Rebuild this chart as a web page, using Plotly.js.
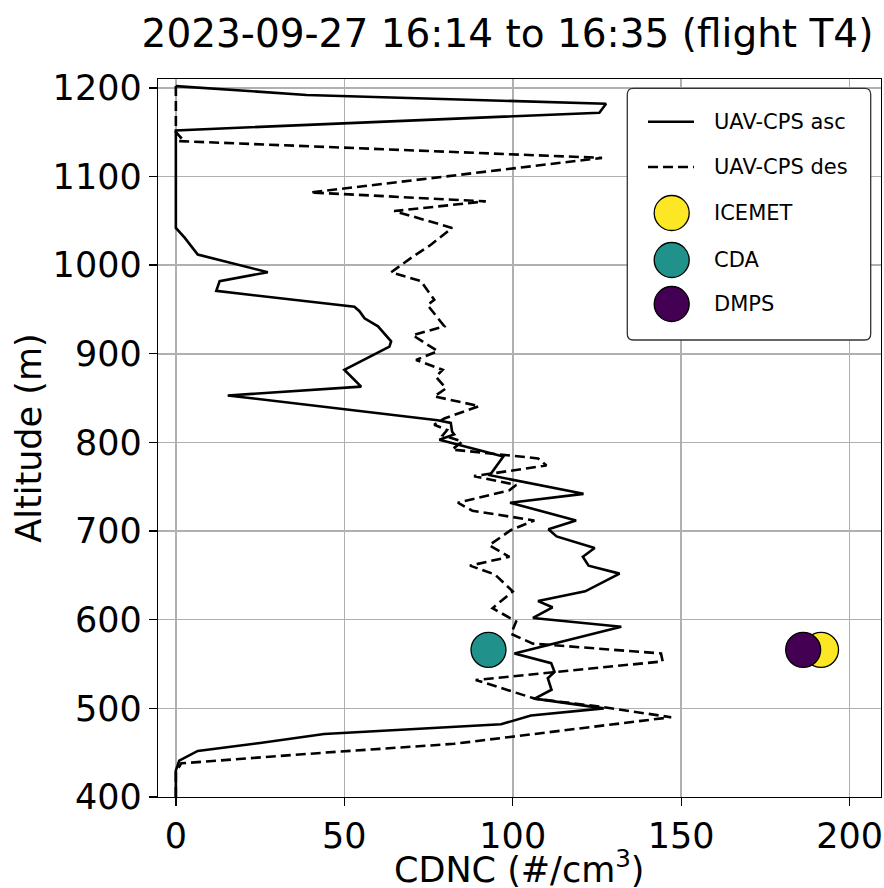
<!DOCTYPE html>
<html>
<head>
<meta charset="utf-8">
<script src="https://cdn.plot.ly/plotly-3.0.1.min.js"></script>
<style>html,body{margin:0;padding:0;background:#fff;}#chart{width:884px;height:888px;}</style>
</head>
<body>
<div id="chart"></div>
<script>
// UAV-CPS ascending profile (altitude m, CDNC #/cm3)
const ascAlt = [400, 430, 441, 452, 461, 471, 482, 492, 500, 511, 521, 534, 541, 551, 562, 592, 602, 614, 621, 632, 652, 661, 671, 681, 694, 702, 712, 732, 742, 763, 784, 803, 809, 812, 822, 825, 853, 863, 882, 908, 914, 931, 940, 948, 953, 971, 982, 992, 1012, 1031, 1042, 1152, 1172, 1182, 1192, 1202];
const ascVal = [0, 0, 1, 6.5, 25, 44, 96.5, 105.4, 127, 106.5, 111.5, 110.4, 112.4, 111.4, 100.5, 132.2, 106, 111.8, 107.5, 121.5, 131.7, 122.5, 120.8, 124.3, 113, 110.6, 118.8, 99.2, 121, 93.2, 97.2, 78.2, 82.6, 82, 81.6, 77.7, 15.4, 55, 50, 63.4, 63.9, 60, 56, 54.5, 53, 12, 13, 27.3, 6.5, 2.6, 0, 0, 125.7, 127.7, 38.8, 0];
// UAV-CPS descending profile
const desAlt = [400, 428, 438, 450, 460, 490, 502, 511, 532, 553, 562, 573, 584, 598, 613, 632, 651, 661, 671, 684, 701, 712, 723, 732, 746, 752, 762, 774, 782, 786, 792, 801, 808, 814, 820, 827, 841, 852, 861, 874, 882, 893, 903, 921, 931, 955, 961, 982, 992, 1010, 1023, 1042, 1061, 1072, 1082, 1121, 1140, 1144, 1150, 1202];
const desVal = [0, 0, 1.6, 44, 82.6, 147, 125.7, 106.5, 89, 144.5, 144, 106, 99.5, 101, 94, 100, 94.7, 87.3, 99, 93, 99.4, 106.4, 88, 83.7, 99, 101, 88.5, 110, 107.5, 98, 82, 85, 79.2, 80.5, 76.7, 79.7, 90, 76.7, 80.2, 77.2, 79.2, 71.3, 77.7, 70.3, 79.7, 74.7, 76.7, 72.7, 63.9, 70.5, 75.7, 82, 64.8, 92, 40, 126.5, 0.5, 1.5, 0, 0];
// Instrument point values
const instNames = ["ICEMET", "CDA", "DMPS"];
const instVal = [191.5, 92.8, 186.2];
const instAlt = [566, 566, 566];
const instColors = ["#fde725", "#21918c", "#440154"];
const lineNames = ["UAV-CPS asc", "UAV-CPS des"];
const xTicks = [0, 50, 100, 150, 200];
const yTicks = [400, 500, 600, 700, 800, 900, 1000, 1100, 1200];
const xTitle = "CDNC (#/cm<sup>3</sup>)";
const yTitle = "Altitude (m)";
const chartTitle = "2023-09-27 16:14 to 16:35 (flight T4)";

const FONT = "DejaVu Sans, sans-serif";
const LW = 2.6;
const DASH = "10px,5px";
const traces = [
  {x: ascVal, y: ascAlt, mode: "lines", name: lineNames[0], line: {color: "#000", width: LW}, showlegend: false, hoverinfo: "skip"},
  {x: desVal, y: desAlt, mode: "lines", name: lineNames[1], line: {color: "#000", width: LW, dash: DASH}, showlegend: false, hoverinfo: "skip"}
];
for (let i = 0; i < instNames.length; i++) {
  traces.push({x: [instVal[i]], y: [instAlt[i]], mode: "markers", name: instNames[i],
    marker: {size: 35, color: instColors[i], line: {color: "#000", width: 1.3}}, showlegend: false, hoverinfo: "skip"});
}

// custom legend (paper coordinates for plot area 158..881 x 79..797)
const PW = 723, PH = 718, PL = 158, PT = 79;
const px = v => (v - PL) / PW;
const py = v => (PT + PH - v) / PH;
const bx0 = px(627.3), bx1 = px(870.7), by0 = py(340), by1 = py(88.3);
const rx = 6 / PW, ry = 6 / PH;
const boxPath = `M ${bx0+rx},${by0} L ${bx1-rx},${by0} Q ${bx1},${by0} ${bx1},${by0+ry} L ${bx1},${by1-ry} Q ${bx1},${by1} ${bx1-rx},${by1} L ${bx0+rx},${by1} Q ${bx0},${by1} ${bx0},${by1-ry} L ${bx0},${by0+ry} Q ${bx0},${by0} ${bx0+rx},${by0} Z`;
const shapes = [
  {type: "path", xref: "paper", yref: "paper", path: boxPath, fillcolor: "#fff", line: {color: "#333", width: 1.3}, layer: "above"}
];
const rowY = [121.7, 167, 213, 260, 304];
const dashes = ["solid", DASH];
for (let i = 0; i < 2; i++) {
  shapes.push({type: "line", xref: "paper", yref: "paper", x0: px(648), x1: px(694), y0: py(rowY[i]), y1: py(rowY[i]),
    line: {color: "#000", width: LW, dash: dashes[i]}, layer: "above"});
}
for (let i = 0; i < 3; i++) {
  shapes.push({type: "circle", xref: "paper", yref: "paper", xsizemode: "pixel", ysizemode: "pixel",
    xanchor: px(671.7), yanchor: py(rowY[i+2]), x0: -17.5, x1: 17.5, y0: -17.5, y1: 17.5,
    fillcolor: instColors[i], line: {color: "#000", width: 1.3}, layer: "above"});
}
const legendLabels = lineNames.concat(instNames);
const annotations = legendLabels.map((t, i) => ({
  text: t, xref: "paper", yref: "paper", x: px(711.7), y: py(rowY[i]), xanchor: "left", yanchor: "middle",
  showarrow: false, font: {family: FONT, size: 21, color: "#000"}
}));
// x-axis title placed like the reference
annotations.push({text: xTitle, xref: "paper", yref: "paper", x: 0.5, y: py(867), xanchor: "center", yanchor: "middle",
  showarrow: false, font: {family: FONT, size: 35, color: "#000"}});

const axisCommon = {
  showline: true, mirror: true, linecolor: "#000", linewidth: 1.3,
  ticks: "outside", ticklen: 8, tickwidth: 1.3, tickcolor: "#000",
  showgrid: true, gridcolor: "#b0b0b0", gridwidth: 1.5, zeroline: false,
  tickfont: {family: FONT, size: 35, color: "#000"}
};
const layout = {
  width: 884, height: 888,
  margin: {l: PL, r: 884 - PL - PW, t: PT, b: 888 - PT - PH},
  paper_bgcolor: "#fff", plot_bgcolor: "#fff",
  showlegend: false,
  title: {text: chartTitle, font: {family: FONT, size: 39, color: "#000"},
    x: 507.5 / 884, xref: "container", xanchor: "center", y: 1 - 33 / 888, yref: "container", yanchor: "middle"},
  xaxis: Object.assign({}, axisCommon, {range: [-5.3, 209.3], tickvals: xTicks, ticktext: xTicks.map(String)}),
  yaxis: Object.assign({}, axisCommon, {range: [400, 1210], tickvals: yTicks, ticktext: yTicks.map(String),
    title: {text: yTitle, font: {family: FONT, size: 35, color: "#000"}, standoff: 0}}),
  shapes: shapes,
  annotations: annotations,
  font: {family: FONT}
};
Plotly.newPlot("chart", traces, layout, {displayModeBar: false, staticPlot: true});
</script>
</body>
</html>
